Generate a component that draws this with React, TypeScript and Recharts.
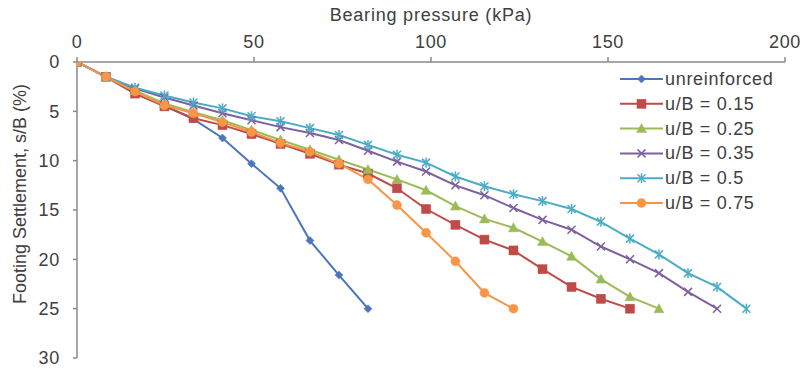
import React from 'react';
import { LineChart, Line, XAxis, YAxis } from 'recharts';

// Bearing pressure (kPa) at each load step
const loads = [0, 8.2, 16.4, 24.7, 32.9, 41.1, 49.3, 57.5, 65.8, 74.0, 82.2, 90.4, 98.6, 106.9, 115.1, 123.3, 131.5, 139.7, 148.0, 156.2, 164.4, 172.6, 180.8, 189.1];

// Footing settlement s/B (%) per series
const unreinforced = [0, 1.5, 3.2, 4.4, 5.8, 7.7, 10.3, 12.8, 18.1, 21.6, 25.0];
const ub015 = [0, 1.5, 3.2, 4.5, 5.7, 6.4, 7.3, 8.3, 9.3, 10.4, 11.3, 12.8, 14.9, 16.5, 18.0, 19.1, 21.0, 22.8, 24.0, 25.0];
const ub025 = [0, 1.5, 2.9, 4.2, 5.1, 5.9, 6.9, 7.9, 8.9, 9.9, 10.9, 11.9, 13.0, 14.6, 15.9, 16.8, 18.2, 19.7, 22.0, 23.8, 25.0];
const ub035 = [0, 1.5, 2.7, 3.6, 4.4, 5.2, 5.9, 6.6, 7.2, 7.9, 9.0, 10.1, 11.1, 12.5, 13.5, 14.8, 16.0, 17.0, 18.7, 20.0, 21.4, 23.3, 25.0];
const ub05 = [0, 1.5, 2.6, 3.4, 4.1, 4.7, 5.5, 6.0, 6.7, 7.4, 8.4, 9.4, 10.2, 11.6, 12.6, 13.4, 14.1, 14.9, 16.2, 17.9, 19.5, 21.4, 22.8, 25.0];
const ub075 = [0, 1.5, 3.0, 4.4, 5.2, 6.1, 7.1, 8.2, 9.1, 10.3, 11.9, 14.5, 17.3, 20.2, 23.4, 25.0];

const xTicks = [0, 50, 100, 150, 200];
const yTicks = [0, 5, 10, 15, 20, 25, 30];

const seriesNames = ['unreinforced', 'u/B = 0.15', 'u/B = 0.25', 'u/B = 0.35', 'u/B = 0.5', 'u/B = 0.75'];
const seriesValues = [unreinforced, ub015, ub025, ub035, ub05, ub075];
const seriesColors = ['#4A76BA', '#BE4B48', '#9BBB59', '#7D60A0', '#4BACC6', '#F79646'];
const seriesShapes = ['diamond', 'square', 'triangle', 'x', 'star', 'circle'];

const series = seriesNames.map((name, i) => ({
  name,
  color: seriesColors[i],
  shape: seriesShapes[i],
  data: seriesValues[i].map((s, j) => ({ x: loads[j], s })),
}));

const FONT = '"Liberation Sans", Arial, sans-serif';
const TEXT = '#404040';
const AXIS = '#8A8A8A';

function Marker({ shape, color, cx, cy }: { shape: string; color: string; cx: number; cy: number }) {
  if (cx == null || cy == null) return null;
  switch (shape) {
    case 'diamond':
      return <polygon points={`${cx},${cy - 4} ${cx + 4},${cy} ${cx},${cy + 4} ${cx - 4},${cy}`} fill={color} stroke={color} strokeWidth={0.5} />;
    case 'square':
      return <rect x={cx - 4.5} y={cy - 4.5} width={9} height={9} fill={color} stroke={color} strokeWidth={0.5} />;
    case 'triangle':
      return <polygon points={`${cx},${cy - 5} ${cx + 5},${cy + 4} ${cx - 5},${cy + 4}`} fill={color} stroke={color} strokeWidth={0.5} />;
    case 'x':
      return (
        <g stroke={color} strokeWidth={1.5}>
          <line x1={cx - 4} y1={cy - 4} x2={cx + 4} y2={cy + 4} />
          <line x1={cx - 4} y1={cy + 4} x2={cx + 4} y2={cy - 4} />
        </g>
      );
    case 'star':
      return (
        <g stroke={color} strokeWidth={1.5}>
          <line x1={cx - 4} y1={cy - 4} x2={cx + 4} y2={cy + 4} />
          <line x1={cx - 4} y1={cy + 4} x2={cx + 4} y2={cy - 4} />
          <line x1={cx} y1={cy - 5} x2={cx} y2={cy + 5} />
        </g>
      );
    default:
      return <circle cx={cx} cy={cy} r={4.5} fill={color} stroke={color} strokeWidth={0.5} />;
  }
}

function YTitle(props: any) {
  const vb = props.viewBox || {};
  const x = 20;
  const y = (vb.y ?? 62) + (vb.height ?? 296) / 2 - 16;
  return (
    <text x={x} y={y} transform={`rotate(-90 ${x} ${y})`} textAnchor="middle" dominantBaseline="central"
      fontSize={18} fontFamily={FONT} fill={TEXT}>
      Footing Settlement, s/B (%)
    </text>
  );
}

function XTitle(props: any) {
  const vb = props.viewBox || {};
  const x = (vb.x ?? 77) + (vb.width ?? 708) / 2;
  return (
    <text x={x} y={15} textAnchor="middle" dominantBaseline="central"
      fontSize={18} fontFamily={FONT} fill={TEXT} letterSpacing={0.8}>
      Bearing pressure (kPa)
    </text>
  );
}

function LegendBox() {
  const rowH = 24.8;
  return (
    <svg width={180} height={160} style={{ position: 'absolute', left: 620, top: 67 }}>
      {series.map((s, i) => {
        const cy = 12 + i * rowH;
        return (
          <g key={s.name}>
            <line x1={0} y1={cy} x2={43} y2={cy} stroke={s.color} strokeWidth={2} />
            <Marker shape={s.shape} color={s.color} cx={21.5} cy={cy} />
            <text x={45} y={cy} dominantBaseline="central" fontSize={18} fontFamily={FONT} fill={TEXT} letterSpacing={0.7}>
              {s.name}
            </text>
          </g>
        );
      })}
    </svg>
  );
}

export default function App() {
  return (
    <div style={{ position: 'absolute', left: 0, top: 0, width: 803, height: 371, background: '#fff' }}>
      <LineChart width={803} height={371} margin={{ top: 0, right: 18, bottom: 13, left: 0 }}>
        <XAxis
          type="number"
          dataKey="x"
          orientation="top"
          domain={[0, 200]}
          ticks={xTicks}
          height={62}
          allowDataOverflow
          axisLine={{ stroke: AXIS, strokeWidth: 1.5 }}
          tickLine={{ stroke: AXIS, strokeWidth: 1.5 }}
          tickSize={5}
          tickMargin={9}
          tick={{ fontSize: 18, fontFamily: FONT, fill: TEXT, letterSpacing: 0.7 }}
          label={<XTitle />}
        />
        <YAxis
          type="number"
          dataKey="s"
          reversed
          domain={[0, 30]}
          ticks={yTicks}
          width={77}
          allowDataOverflow
          axisLine={{ stroke: AXIS, strokeWidth: 1.5 }}
          tickLine={{ stroke: AXIS, strokeWidth: 1.5 }}
          tickSize={4}
          tickMargin={13}
          tick={{ fontSize: 18, fontFamily: FONT, fill: TEXT, letterSpacing: 0.7 }}
          label={<YTitle />}
        />
        {series.map((s) => (
          <Line
            key={s.name}
            data={s.data}
            dataKey="s"
            name={s.name}
            type="linear"
            stroke={s.color}
            strokeWidth={2}
            isAnimationActive={false}
            dot={(p: any) => <Marker key={`${s.name}-${p.index}`} shape={s.shape} color={s.color} cx={p.cx} cy={p.cy} />}
            activeDot={false}
          />
        ))}
      </LineChart>
      <LegendBox />
    </div>
  );
}
